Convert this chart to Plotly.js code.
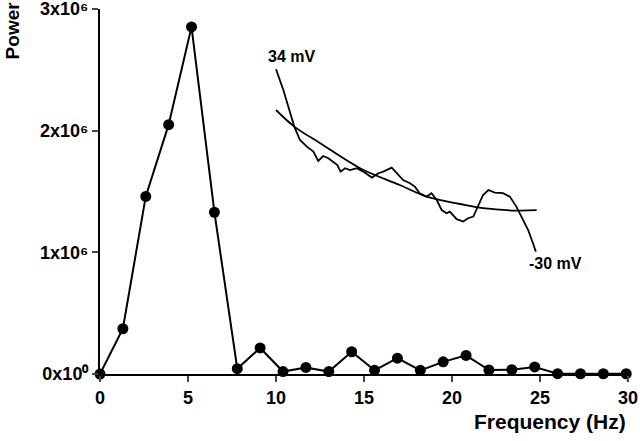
<!DOCTYPE html>
<html>
<head>
<meta charset="utf-8">
<script src="https://cdn.plot.ly/plotly-3.0.1.min.js"></script>
<style>html,body{margin:0;padding:0;background:#fff;}#chart{width:640px;height:441px;}</style>
</head>
<body>
<div id="chart"></div>
<script>
// Power spectrum
var frequency = [0, 1.3, 2.6, 3.9, 5.2, 6.5, 7.8, 9.1, 10.4, 11.7, 13.0, 14.3, 15.6, 16.9, 18.2, 19.5, 20.8, 22.1, 23.4, 24.7, 26.0, 27.3, 28.6, 29.9];
var power = [0, 372000, 1460000, 2050000, 2854000, 1330000, 44000, 214000, 20000, 54000, 20000, 183000, 30000, 130000, 30000, 100000, 153000, 33000, 35000, 58000, 3000, 2000, 2000, 2000];

// Inset: voltage trace (mV) vs relative amplitude
var insetVoltage = [34, 32.2, 29.5, 28.1, 26.4, 24.8, 23.6, 22.4, 21.1, 19.9, 18.9, 18.1, 17.0, 15.8, 14.1, 12.5, 10.4, 8.8, 7.6, 5.5, 4.3, 2.7, 1.0, -0.2, -1.4, -3.1, -4.3, -5.6, -6.8, -8.0, -8.8, -10.5, -12.1, -13.3, -14.6, -15.8, -17.0, -18.3, -19.9, -21.9, -23.6, -25.2, -26.5, -28.1, -29.3, -30];
var insetTrace = [95.4, 85, 66.7, 60, 56.7, 54.2, 49.5, 52, 50.9, 49.2, 47.5, 44.2, 45.9, 45, 45.9, 44.2, 41.2, 43.4, 44.2, 46.2, 43.4, 40, 38.4, 36.7, 33.4, 31.7, 33.4, 30, 25, 23.4, 24.2, 20.4, 19.2, 20.9, 21.7, 26.7, 32.5, 35, 33.7, 33.4, 31.7, 26.7, 21.7, 15, 8.4, 4.2];
var fitVoltage = [34, 29.5, 23.2, 13.3, 3.5, -3.1, -11.3, -17.0, -25.2, -30.2];
var fitTrace = [75, 66.7, 58.5, 45.9, 37.5, 31.7, 28, 25.9, 24.7, 24.9];

var yTickVals = [0, 1000000, 2000000, 3000000];
var yTickText = ['0x10\u2070', '1x10\u2076', '2x10\u2076', '3x10\u2076'];
var xTickVals = [0, 5, 10, 15, 20, 25, 30];

var FONT = 'Liberation Sans, Arial, sans-serif';

var traces = [
  {x: frequency, y: power, type: 'scatter', mode: 'lines+markers',
   line: {color: '#000', width: 2},
   marker: {color: '#000', size: 11},
   cliponaxis: false, xaxis: 'x', yaxis: 'y', hoverinfo: 'none'},
  {x: insetVoltage, y: insetTrace, type: 'scatter', mode: 'lines',
   line: {color: '#000', width: 1.8}, xaxis: 'x2', yaxis: 'y2', hoverinfo: 'none'},
  {x: fitVoltage, y: fitTrace, type: 'scatter', mode: 'lines',
   line: {color: '#000', width: 1.8, shape: 'spline'}, xaxis: 'x2', yaxis: 'y2', hoverinfo: 'none'}
];

var layout = {
  width: 640, height: 441,
  margin: {l: 100, r: 12, t: 9, b: 67},
  paper_bgcolor: '#fff', plot_bgcolor: '#fff',
  showlegend: false,
  font: {family: FONT, color: '#000'},
  xaxis: {
    range: [0, 30.001], tickvals: xTickVals, ticks: 'outside', ticklen: 6, tickwidth: 2,
    showline: true, linewidth: 2, linecolor: '#000', showgrid: false, zeroline: false,
    tickfont: {family: FONT, size: 18, color: '#000', weight: 'bold'},
    ticklabeloverflow: 'allow',
    domain: [0, 1], anchor: 'y'
  },
  yaxis: {
    range: [0, 3001000], tickvals: yTickVals, ticktext: yTickText, ticks: 'outside', ticklen: 6, tickwidth: 2,
    showline: true, linewidth: 2, linecolor: '#000', showgrid: false, zeroline: false,
    tickfont: {family: FONT, size: 18, color: '#000', weight: 'bold'},
    ticklabeloverflow: 'allow',
    domain: [0, 1], anchor: 'x'
  },
  xaxis2: {domain: [0.322, 0.833], range: [35.48, -30.98], visible: false, anchor: 'y2', fixedrange: true},
  yaxis2: {domain: [0.3123, 0.8603], range: [0, 100], visible: false, anchor: 'x2', fixedrange: true},
  annotations: [
    {text: '<b>Power</b>', xref: 'paper', yref: 'paper', x: -0.165, y: 1.026, xanchor: 'center', yanchor: 'top',
     textangle: -90, showarrow: false, font: {family: FONT, size: 19, color: '#000'}},
    {text: '<b>Frequency (Hz)</b>', xref: 'paper', yref: 'paper', x: 1.0, y: -0.093, xanchor: 'right', yanchor: 'top',
     showarrow: false, font: {family: FONT, size: 21, color: '#000'}},
    {text: '<b>34 mV</b>', xref: 'paper', yref: 'paper', x: 0.3636, y: 0.8685, xanchor: 'center', yanchor: 'middle',
     showarrow: false, font: {family: FONT, size: 16, color: '#000'}},
    {text: '<b>-30 mV</b>', xref: 'paper', yref: 'paper', x: 0.8636, y: 0.304, xanchor: 'center', yanchor: 'middle',
     showarrow: false, font: {family: FONT, size: 16, color: '#000'}}
  ]
};

Plotly.newPlot('chart', traces, layout, {staticPlot: true, displayModeBar: false});
</script>
</body>
</html>
